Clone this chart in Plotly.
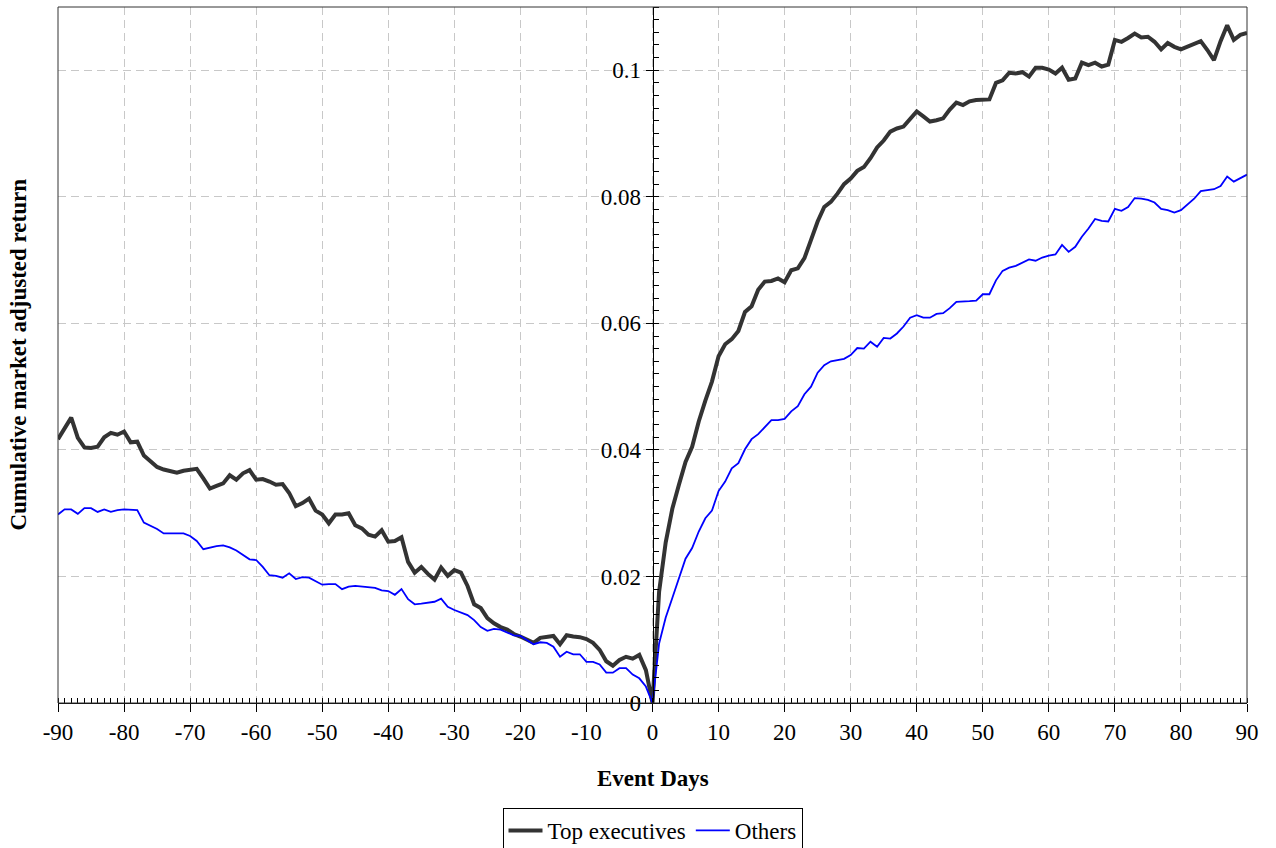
import plotly.graph_objects as go

# Event window (days relative to the event)
days = list(range(-90, 91))

# Cumulative market adjusted return, trades by top executives
top_executives = [
    0.0417, 0.0434, 0.0451, 0.0419, 0.0404, 0.0403, 0.0405, 0.0420, 0.0427, 0.0424,
    0.0429, 0.0412, 0.0413, 0.0391, 0.0383, 0.0373, 0.0369, 0.0366, 0.0364, 0.0367,
    0.0368, 0.0370, 0.0355, 0.0339, 0.0343, 0.0347, 0.0360, 0.0353, 0.0363, 0.0368,
    0.0353, 0.0354, 0.0350, 0.0345, 0.0346, 0.0332, 0.0311, 0.0316, 0.0323, 0.0304,
    0.0298, 0.0284, 0.0298, 0.0298, 0.0300, 0.0281, 0.0276, 0.0266, 0.0263, 0.0273,
    0.0255, 0.0256, 0.0262, 0.0223, 0.0206, 0.0215, 0.0204, 0.0195, 0.0214, 0.0201,
    0.0210, 0.0206, 0.0185, 0.0156, 0.0150, 0.0134, 0.0126, 0.0120, 0.0116, 0.0109,
    0.0105, 0.0100, 0.0095, 0.0103, 0.0105, 0.0106, 0.0093, 0.0107, 0.0105, 0.0104,
    0.0101, 0.0095, 0.0084, 0.0066, 0.0059, 0.0068, 0.0073, 0.0070, 0.0076, 0.0052,
    0.0,
    0.0176, 0.0254, 0.0307, 0.0345, 0.0381, 0.0405, 0.0445, 0.0478, 0.0508, 0.0548,
    0.0567, 0.0575, 0.0588, 0.0618, 0.0627, 0.0653, 0.0666, 0.0667, 0.0671, 0.0665,
    0.0684, 0.0687, 0.0703, 0.0732, 0.0761, 0.0784, 0.0792, 0.0805, 0.0820, 0.0829,
    0.0841, 0.0847, 0.0861, 0.0878, 0.0889, 0.0903, 0.0908, 0.0911, 0.0924, 0.0935,
    0.0927, 0.0919, 0.0921, 0.0924, 0.0938, 0.0949, 0.0945, 0.0951, 0.0953, 0.0954,
    0.0954, 0.0980, 0.0984, 0.0996, 0.0995, 0.0997, 0.0990, 0.1004, 0.1004, 0.1001,
    0.0995, 0.1004, 0.0985, 0.0987, 0.1012, 0.1008, 0.1012, 0.1006, 0.1009, 0.1048,
    0.1045, 0.1051, 0.1058, 0.1052, 0.1053, 0.1045, 0.1033, 0.1043, 0.1037, 0.1033,
    0.1037, 0.1041, 0.1046, 0.1032, 0.1016, 0.1046, 0.1071, 0.1048, 0.1056, 0.1059,
]

# Cumulative market adjusted return, trades by other insiders
others = [
    0.0298, 0.0306, 0.0306, 0.0299, 0.0308, 0.0308, 0.0302, 0.0306, 0.0302, 0.0305,
    0.0306, 0.0305, 0.0305, 0.0285, 0.0280, 0.0275, 0.0268, 0.0268, 0.0267, 0.0268,
    0.0264, 0.0256, 0.0243, 0.0246, 0.0248, 0.0249, 0.0246, 0.0241, 0.0234, 0.0227,
    0.0226, 0.0215, 0.0202, 0.0201, 0.0198, 0.0205, 0.0196, 0.0199, 0.0198, 0.0192,
    0.0187, 0.0188, 0.0188, 0.0180, 0.0184, 0.0185, 0.0184, 0.0184, 0.0182, 0.0178,
    0.0177, 0.0171, 0.0180, 0.0164, 0.0156, 0.0157, 0.0158, 0.0160, 0.0165, 0.0152,
    0.0147, 0.0143, 0.0139, 0.0131, 0.0120, 0.0114, 0.0117, 0.0116, 0.0111, 0.0107,
    0.0106, 0.0100, 0.0093, 0.0096, 0.0095, 0.0089, 0.0073, 0.0081, 0.0077, 0.0077,
    0.0065, 0.0065, 0.0061, 0.0048, 0.0048, 0.0055, 0.0055, 0.0045, 0.0039, 0.0026,
    0.0,
    0.0094, 0.0135, 0.0166, 0.0197, 0.0228, 0.0245, 0.0271, 0.0292, 0.0304, 0.0335,
    0.0350, 0.0371, 0.0379, 0.0401, 0.0417, 0.0425, 0.0436, 0.0447, 0.0447, 0.0449,
    0.0461, 0.0469, 0.0488, 0.0500, 0.0522, 0.0534, 0.0540, 0.0542, 0.0544, 0.0550,
    0.0561, 0.0560, 0.0571, 0.0563, 0.0577, 0.0576, 0.0584, 0.0595, 0.0609, 0.0613,
    0.0609, 0.0609, 0.0615, 0.0616, 0.0624, 0.0634, 0.0634, 0.0635, 0.0636, 0.0646,
    0.0646, 0.0668, 0.0683, 0.0688, 0.0691, 0.0696, 0.0701, 0.0699, 0.0704, 0.0707,
    0.0709, 0.0724, 0.0713, 0.0721, 0.0737, 0.0750, 0.0765, 0.0762, 0.0761, 0.0781,
    0.0778, 0.0784, 0.0798, 0.0797, 0.0795, 0.0791, 0.0781, 0.0779, 0.0775, 0.0779,
    0.0788, 0.0797, 0.0809, 0.0811, 0.0812, 0.0817, 0.0832, 0.0824, 0.0830, 0.0835,
]

x_ticks = list(range(-90, 91, 10))
x_ticktext = [str(v) for v in x_ticks]
y_ticks = [0, 0.02, 0.04, 0.06, 0.08, 0.1]
y_ticktext = ["0", "0.02", "0.04", "0.06", "0.08", "0.1"]

FONT = "Liberation Serif, Times New Roman, serif"
FS = 23
GRID = "#c8c8c8"
X_RANGE = [-90, 90]
Y_RANGE = [0, 0.11]

fig = go.Figure()
fig.add_trace(go.Scatter(x=days, y=top_executives, mode="lines", name="Top executives",
                         line=dict(color="#333333", width=4)))
fig.add_trace(go.Scatter(x=days, y=others, mode="lines", name="Others",
                         line=dict(color="#0000ff", width=1.8)))

fig.update_layout(
    width=1276, height=848,
    margin=dict(l=58, r=29, t=7, b=145, autoexpand=False),
    paper_bgcolor="white", plot_bgcolor="white",
    font=dict(family=FONT, size=FS, color="black"),
    showlegend=True,
    legend=dict(orientation="h", x=0.5, xanchor="center",
                yref="container", y=(848 - 808) / 848, yanchor="top",
                bordercolor="black", borderwidth=1, font=dict(size=FS),
                itemwidth=34, tracegroupgap=0),
    xaxis=dict(range=X_RANGE, tickvals=x_ticks, ticktext=x_ticktext,
               ticks="outside", ticklen=8, tickcolor="black", tickwidth=1,
               minor=dict(ticks="inside", dtick=1, tick0=0, ticklen=5,
                          tickcolor="black", showgrid=False),
               showline=True, linecolor="black", linewidth=1,
               showgrid=True, gridcolor=GRID, griddash="8px,5px", gridwidth=1,
               zeroline=False, automargin=False, tickfont=dict(size=FS)),
    yaxis=dict(range=Y_RANGE, tickvals=y_ticks, ticktext=y_ticktext,
               anchor="free", position=0.5, side="left",
               ticks="outside", ticklen=7, tickcolor="black", tickwidth=1,
               minor=dict(ticks="inside", dtick=0.002, tick0=0, ticklen=5,
                          tickcolor="black", showgrid=False),
               showline=True, linecolor="black", linewidth=1,
               showgrid=True, gridcolor=GRID, griddash="8px,5px", gridwidth=1,
               zeroline=False, automargin=False, tickfont=dict(size=FS)),
)

# plot frame
fig.add_shape(type="rect", xref="paper", yref="paper", x0=0, x1=1, y0=0, y1=1,
              line=dict(color="#333333", width=1), layer="above")

fig.add_annotation(text="<b>Event Days</b>", xref="paper", yref="paper",
                   x=0.5, y=-0.108, xanchor="center", yanchor="middle",
                   showarrow=False, font=dict(size=FS))
fig.add_annotation(text="<b>Cumulative market adjusted return</b>", xref="paper", yref="paper",
                   x=-0.034, y=0.5, xanchor="center", yanchor="middle", textangle=-90,
                   showarrow=False, font=dict(size=FS))

fig.write_html("out.html")
